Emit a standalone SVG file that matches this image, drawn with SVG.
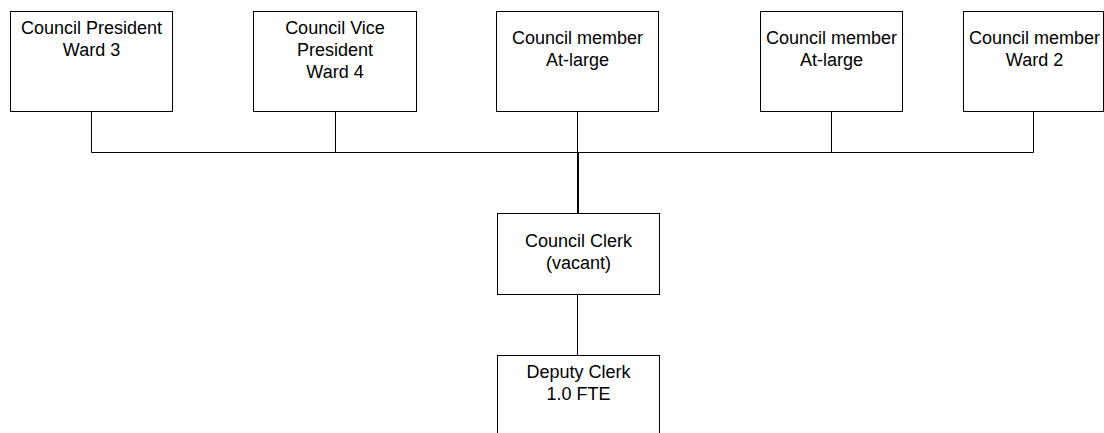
<svg xmlns="http://www.w3.org/2000/svg" width="1104" height="433" viewBox="0 0 1104 433">
  <style>
    .box { fill: #ffffff; stroke: #000000; stroke-width: 1; }
    .lbl { font-family: "Liberation Sans", Arial, sans-serif; font-size: 18px; fill: #000000; text-anchor: middle; }
    .wire { stroke: #000000; stroke-width: 1; fill: none; }
    .trunk { stroke: #000000; stroke-width: 2; fill: none; }
  </style>
  <rect width="1104" height="433" fill="#ffffff"/>

  <!-- connectors -->
  <g id="connectors">
    <path class="wire" d="M91.5 111.5 V152.5 M335.5 111.5 V152.5 M577.5 111.5 V152.5 M831.5 111.5 V152.5 M1033.5 111.5 V152.5 M91.5 152.5 H1033.5"/>
    <path class="trunk" d="M578 152.5 V213.5"/>
    <path class="wire" d="M577.5 294.5 V355.5"/>
  </g>

  <!-- council seats -->
  <g id="president">
    <rect class="box" x="10.5" y="11.5" width="162" height="100"/>
    <text class="lbl" x="91.5" y="34">Council President</text>
    <text class="lbl" x="91.5" y="56">Ward 3</text>
  </g>
  <g id="vice-president">
    <rect class="box" x="253.5" y="11.5" width="163" height="100"/>
    <text class="lbl" x="335" y="34">Council Vice</text>
    <text class="lbl" x="335" y="56">President</text>
    <text class="lbl" x="335" y="78">Ward 4</text>
  </g>
  <g id="member-at-large-1">
    <rect class="box" x="496.5" y="11.5" width="162" height="100"/>
    <text class="lbl" x="577.5" y="44">Council member</text>
    <text class="lbl" x="577.5" y="66">At-large</text>
  </g>
  <g id="member-at-large-2">
    <rect class="box" x="760.5" y="11.5" width="142" height="100"/>
    <text class="lbl" x="831.5" y="44">Council member</text>
    <text class="lbl" x="831.5" y="66">At-large</text>
  </g>
  <g id="member-ward-2">
    <rect class="box" x="963.5" y="11.5" width="140" height="100"/>
    <text class="lbl" x="1034.5" y="44">Council member</text>
    <text class="lbl" x="1034.5" y="66">Ward 2</text>
  </g>

  <!-- staff -->
  <g id="council-clerk">
    <rect class="box" x="497.5" y="213.5" width="162" height="81"/>
    <text class="lbl" x="578.5" y="247">Council Clerk</text>
    <text class="lbl" x="578.5" y="269">(vacant)</text>
  </g>
  <g id="deputy-clerk">
    <rect class="box" x="497.5" y="355.5" width="162" height="100"/>
    <text class="lbl" x="578.5" y="378">Deputy Clerk</text>
    <text class="lbl" x="578.5" y="400">1.0 FTE</text>
  </g>
</svg>
